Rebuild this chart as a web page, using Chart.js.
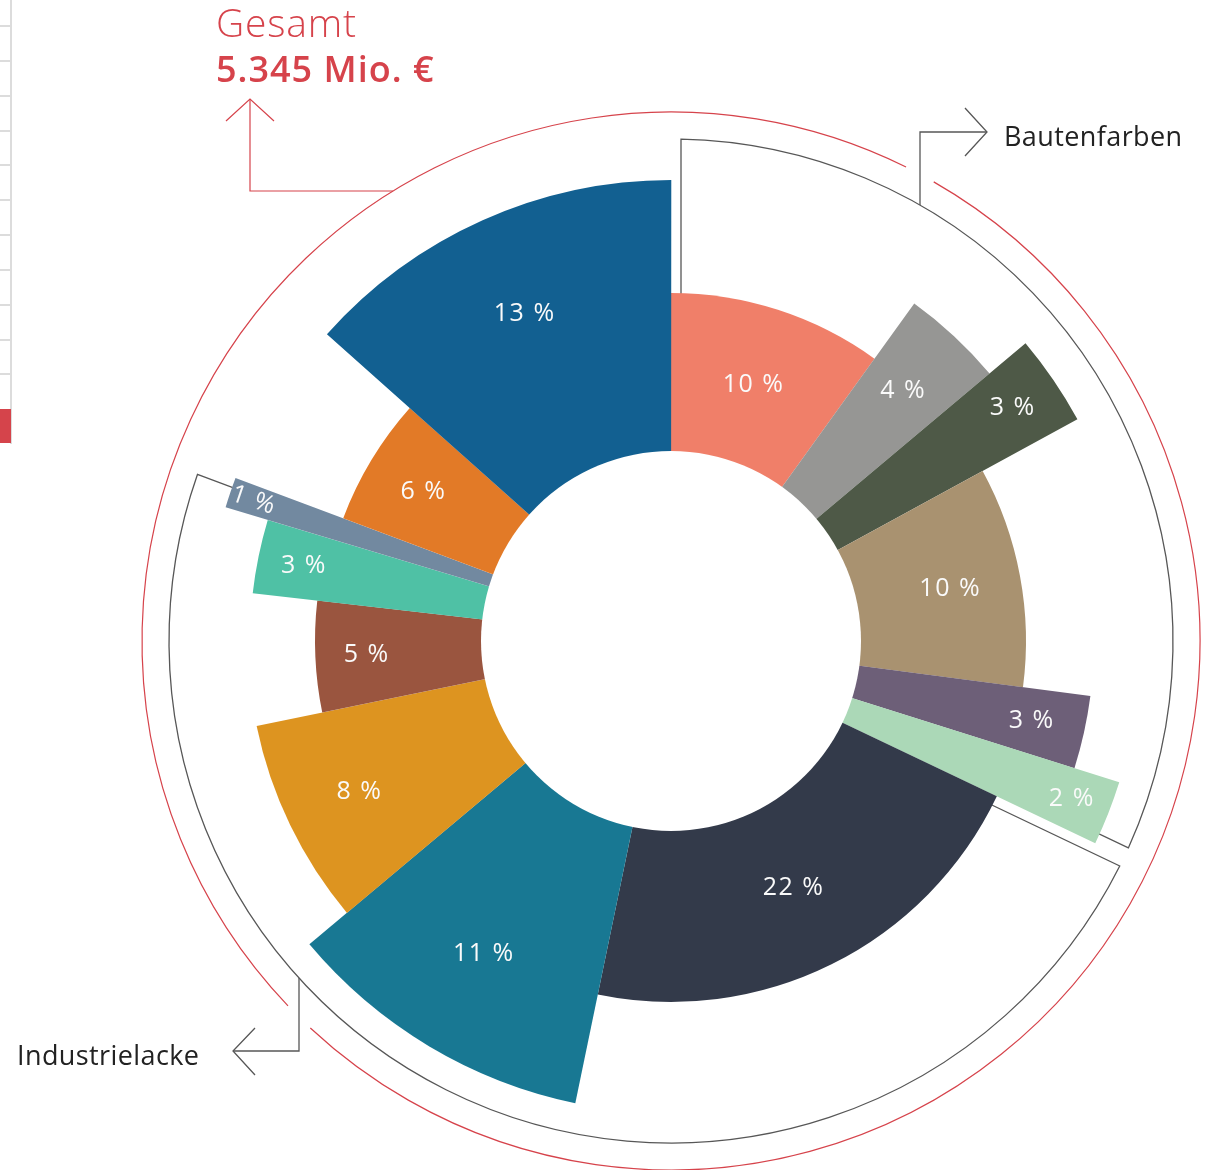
<!DOCTYPE html>
<html>
<head>
<meta charset="utf-8">
<script src="https://cdn.jsdelivr.net/npm/chart.js@4.4.1/dist/chart.umd.min.js"></script>
<style>
  body { margin: 0; background: #fff; }
  #wrap { width: 1212px; height: 1170px; position: relative; }
</style>
</head>
<body>
<div id="wrap"><canvas id="marketChart" width="1212" height="1170"></canvas></div>
<script>
// slices, clockwise from 12 o'clock
const sliceLabels = ['10 %', '4 %', '3 %', '10 %', '3 %', '2 %', '22 %', '11 %', '8 %', '5 %', '3 %', '1 %', '6 %', '13 %'];
// share of the full circle (%)
const sliceShares = [9.94, 3.94, 3.17, 10.03, 2.78, 2.22, 21.17, 10.64, 7.89, 5.03, 2.83, 1.06, 5.89, 13.42];
// outer radius of each slice on the r scale (0..500)
const sliceRadius = [348, 416, 463, 355, 423, 470, 361, 472, 423, 356, 421, 465, 350, 461];
const sliceGroup = ['Bautenfarben', 'Bautenfarben', 'Bautenfarben', 'Bautenfarben', 'Bautenfarben', 'Bautenfarben',
  'Industrielacke', 'Industrielacke', 'Industrielacke', 'Industrielacke', 'Industrielacke', 'Industrielacke', '', ''];
const totalLabel = 'Gesamt';
const totalValue = '5.345 Mio. €';

const sliceColors = ['#f07f69', '#969694', '#4e5947', '#a99270', '#6d5f78', '#abd8b7', '#333a4a',
  '#187893', '#dd9420', '#9a553f', '#4fc1a5', '#7289a0', '#e27a27', '#126091'];
// where the % text sits between hole edge (0) and slice edge (1)
const labelAt = [0.50, 0.67, 0.82, 0.57, 0.77, 0.86, 0.50, 0.62, 0.67, 0.69, 0.80, 0.91, 0.62, 0.62];

const HOLE = 190;
const BRACKET_R = 502;
const RED_R = 529;
const FONT = "'Open Sans', sans-serif";
const RED = '#d6434b';
const LINE = '#575757';

function rad(d) { return d * Math.PI / 180; }

function groupAngles(meta, name) {
  const idx = [];
  sliceGroup.forEach((g, i) => { if (g === name) idx.push(i); });
  return [meta.data[idx[0]].startAngle, meta.data[idx[idx.length - 1]].endAngle];
}

function arrow(ctx, tx, ty, ax, ay, bx, by) {
  ctx.beginPath();
  ctx.moveTo(ax, ay);
  ctx.lineTo(tx, ty);
  ctx.lineTo(bx, by);
  ctx.stroke();
}

const leftStrip = {
  id: 'leftStrip',
  beforeDraw(chart) {
    const ctx = chart.ctx;
    ctx.save();
    ctx.fillStyle = '#dcdcdc';
    ctx.fillRect(10, 0, 2, 444);
    [25, 60, 95, 130, 164, 199, 234, 269, 304, 339, 373].forEach(y => ctx.fillRect(0, y, 11, 2));
    ctx.fillStyle = '#d5444b';
    ctx.fillRect(0, 409, 11, 34);
    ctx.restore();
  }
};

const groupOutline = {
  id: 'groupOutline',
  beforeDatasetsDraw(chart) {
    const ctx = chart.ctx;
    const meta = chart.getDatasetMeta(0);
    const scale = chart.scales.r;
    const cx = scale.xCenter, cy = scale.yCenter;
    const inset = 10;
    const d = Math.asin(inset / BRACKET_R);
    const rOut = Math.sqrt(BRACKET_R * BRACKET_R - inset * inset);

    ctx.save();
    ctx.strokeStyle = LINE;
    ctx.lineWidth = 1.3;
    ['Bautenfarben', 'Industrielacke'].forEach(name => {
      const [a0, a1] = groupAngles(meta, name);
      ctx.beginPath();
      ctx.moveTo(cx + HOLE * Math.cos(a0) - inset * Math.sin(a0), cy + HOLE * Math.sin(a0) + inset * Math.cos(a0));
      ctx.lineTo(cx + rOut * Math.cos(a0) - inset * Math.sin(a0), cy + rOut * Math.sin(a0) + inset * Math.cos(a0));
      ctx.arc(cx, cy, BRACKET_R, a0 + d, a1 - d);
      ctx.lineTo(cx + HOLE * Math.cos(a1) + inset * Math.sin(a1), cy + HOLE * Math.sin(a1) - inset * Math.cos(a1));
      ctx.stroke();
    });

    // connectors from the brackets to their names
    const bx = cx + 249, by = cy - Math.sqrt(BRACKET_R * BRACKET_R - 249 * 249);
    ctx.beginPath();
    ctx.moveTo(bx, by);
    ctx.lineTo(bx, 132);
    ctx.lineTo(987, 132);
    ctx.stroke();
    arrow(ctx, 987, 132, 965, 108, 965, 156);

    const ix = cx - 372, iy = cy + Math.sqrt(BRACKET_R * BRACKET_R - 372 * 372);
    ctx.beginPath();
    ctx.moveTo(ix, iy);
    ctx.lineTo(ix, 1051);
    ctx.lineTo(233, 1051);
    ctx.stroke();
    arrow(ctx, 233, 1051, 255, 1028, 255, 1075);

    // red total circle, broken where the connectors pass
    const gapB = Math.asin(249 / RED_R) - Math.PI / 2;
    const gapI = Math.PI / 2 + Math.asin(372 / RED_R);
    const g = rad(1.7);
    ctx.strokeStyle = RED;
    ctx.lineWidth = 1.2;
    ctx.beginPath();
    ctx.arc(cx, cy, RED_R, gapB + g, gapI - g);
    ctx.stroke();
    ctx.beginPath();
    ctx.arc(cx, cy, RED_R, gapI + g, gapB - g + 2 * Math.PI);
    ctx.stroke();

    const gy = 191;
    const gx = cx - Math.sqrt(RED_R * RED_R - (cy - gy) * (cy - gy));
    ctx.beginPath();
    ctx.moveTo(gx, gy);
    ctx.lineTo(250, gy);
    ctx.lineTo(250, 99);
    ctx.stroke();
    arrow(ctx, 250, 99, 226, 121, 274, 121);

    ctx.fillStyle = RED;
    ctx.textBaseline = 'alphabetic';
    ctx.textAlign = 'left';
    ctx.letterSpacing = '0.8px';
    ctx.font = '300 39px ' + FONT;
    ctx.fillText(totalLabel, 216, 37);
    ctx.letterSpacing = '1px';
    ctx.font = '600 36px ' + FONT;
    ctx.fillText(totalValue, 216, 82);

    ctx.fillStyle = '#222';
    ctx.letterSpacing = '0.4px';
    ctx.font = '400 27px ' + FONT;
    ctx.fillText('Bautenfarben', 1004, 146);
    ctx.fillText('Industrielacke', 17, 1065);
    ctx.restore();
  }
};

const holeAndLabels = {
  id: 'holeAndLabels',
  afterDatasetsDraw(chart) {
    const ctx = chart.ctx;
    const meta = chart.getDatasetMeta(0);
    const scale = chart.scales.r;
    ctx.save();
    ctx.fillStyle = '#fff';
    ctx.beginPath();
    ctx.arc(scale.xCenter, scale.yCenter, HOLE, 0, 2 * Math.PI);
    ctx.fill();

    ctx.fillStyle = '#fafafa';
    ctx.letterSpacing = '1.5px';
    ctx.font = '400 25px ' + FONT;
    ctx.textAlign = 'center';
    ctx.textBaseline = 'middle';
    meta.data.forEach((arc, i) => {
      const mid = (arc.startAngle + arc.endAngle) / 2;
      const r = HOLE + labelAt[i] * (arc.outerRadius - HOLE);
      const x = arc.x + r * Math.cos(mid);
      const y = arc.y + r * Math.sin(mid);
      ctx.save();
      ctx.translate(x, y);
      if (arc.endAngle - arc.startAngle < rad(5)) ctx.rotate(mid + Math.PI);
      ctx.fillText(sliceLabels[i], 0, 0);
      ctx.restore();
    });
    ctx.restore();
  }
};

new Chart(document.getElementById('marketChart'), {
  type: 'polarArea',
  data: {
    labels: sliceLabels,
    datasets: [{
      data: sliceRadius,
      backgroundColor: sliceColors,
      borderWidth: 0,
      angle: (c) => sliceShares[c.dataIndex] * 3.6
    }]
  },
  options: {
    responsive: false,
    animation: false,
    layout: { padding: { left: 171, right: 41, top: 141, bottom: 29 } },
    plugins: {
      legend: { display: false },
      tooltip: { enabled: false }
    },
    scales: {
      r: { display: false, min: 0, max: 500 }
    }
  },
  plugins: [leftStrip, groupOutline, holeAndLabels]
});
</script>
</body>
</html>
